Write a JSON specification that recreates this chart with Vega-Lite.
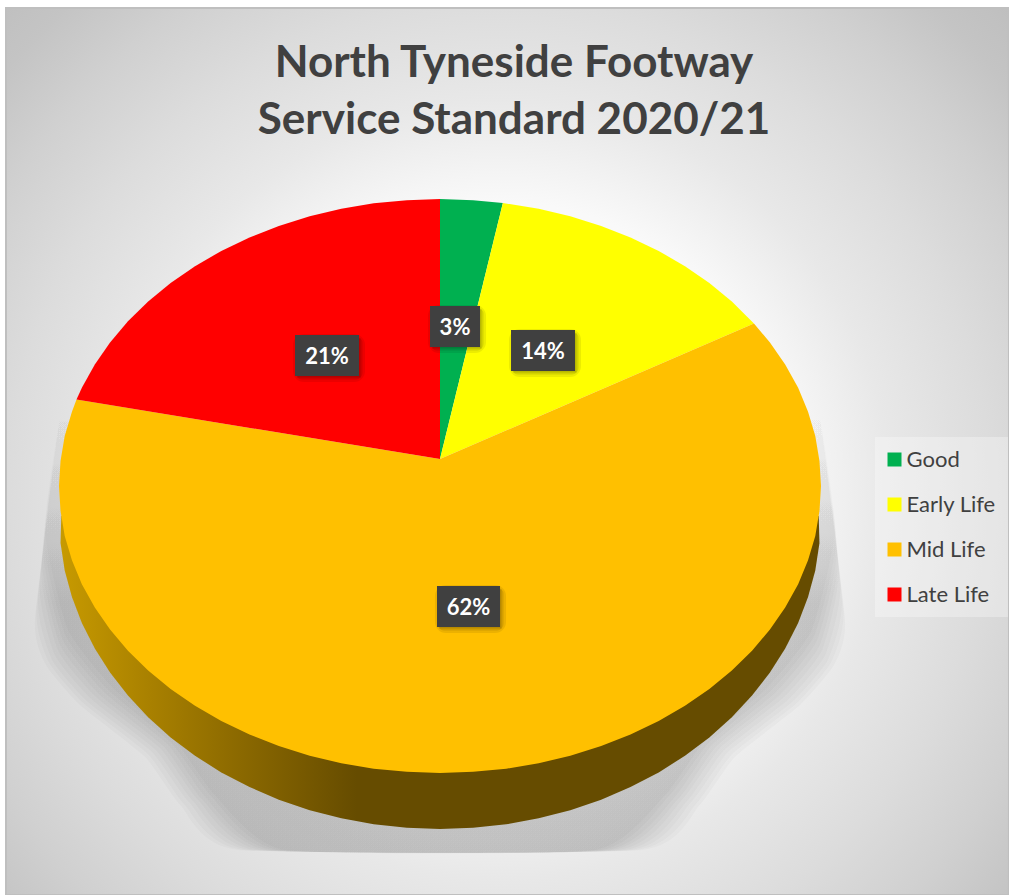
{
"$schema":"https://vega.github.io/schema/vega-lite/v6.json",
"width":1009,"height":895,"padding":0,"autosize":"none","background":"#ffffff",
"title":{"text":["North Tyneside Footway","Service Standard 2020/21"],"anchor":"middle","dx":9.5,"offset":-142.5,"baseline":"top","lineHeight":57,"font":"Lato","fontSize":44,"fontWeight":"bold","color":"#404040"},
"config":{"view":{"stroke":null}},
"datasets":{
"frame":[{"x":-1.1391,"x2":1.4934,"y":1.6655,"y2":-1.4251}],
"shadow":[
{"c":0,"i":0,"x":-0.992,"y":0.3},{"c":0,"i":1,"x":-1.063,"y":-0.467},{"c":0,"i":2,"x":-1.034,"y":-0.624},{"c":0,"i":3,"x":-0.945,"y":-0.763},{"c":0,"i":4,"x":-0.774,"y":-0.944},{"c":0,"i":5,"x":-0.682,"y":-1.111},{"c":0,"i":6,"x":-0.53,"y":-1.268},{"c":0,"i":7,"x":0.53,"y":-1.268},{"c":0,"i":8,"x":0.682,"y":-1.111},{"c":0,"i":9,"x":0.774,"y":-0.944},{"c":0,"i":10,"x":0.945,"y":-0.763},{"c":0,"i":11,"x":1.034,"y":-0.624},{"c":0,"i":12,"x":1.063,"y":-0.467},{"c":0,"i":13,"x":0.992,"y":0.3},
{"c":1,"i":0,"x":-0.992,"y":0.3},{"c":1,"i":1,"x":-1.059,"y":-0.432},{"c":1,"i":2,"x":-1.026,"y":-0.615},{"c":1,"i":3,"x":-0.935,"y":-0.758},{"c":1,"i":4,"x":-0.765,"y":-0.936},{"c":1,"i":5,"x":-0.672,"y":-1.108},{"c":1,"i":6,"x":-0.514,"y":-1.268},{"c":1,"i":7,"x":0.514,"y":-1.268},{"c":1,"i":8,"x":0.672,"y":-1.108},{"c":1,"i":9,"x":0.765,"y":-0.936},{"c":1,"i":10,"x":0.935,"y":-0.758},{"c":1,"i":11,"x":1.026,"y":-0.615},{"c":1,"i":12,"x":1.059,"y":-0.432},{"c":1,"i":13,"x":0.992,"y":0.3},
{"c":2,"i":0,"x":-0.992,"y":0.3},{"c":2,"i":1,"x":-1.055,"y":-0.397},{"c":2,"i":2,"x":-1.018,"y":-0.606},{"c":2,"i":3,"x":-0.924,"y":-0.753},{"c":2,"i":4,"x":-0.756,"y":-0.927},{"c":2,"i":5,"x":-0.659,"y":-1.101},{"c":2,"i":6,"x":-0.499,"y":-1.268},{"c":2,"i":7,"x":0.499,"y":-1.268},{"c":2,"i":8,"x":0.659,"y":-1.101},{"c":2,"i":9,"x":0.756,"y":-0.927},{"c":2,"i":10,"x":0.924,"y":-0.753},{"c":2,"i":11,"x":1.018,"y":-0.606},{"c":2,"i":12,"x":1.055,"y":-0.397},{"c":2,"i":13,"x":0.992,"y":0.3},
{"c":3,"i":0,"x":-0.992,"y":0.3},{"c":3,"i":1,"x":-1.051,"y":-0.345},{"c":3,"i":2,"x":-1.011,"y":-0.589},{"c":3,"i":3,"x":-0.914,"y":-0.744},{"c":3,"i":4,"x":-0.746,"y":-0.92},{"c":3,"i":5,"x":-0.648,"y":-1.098},{"c":3,"i":6,"x":-0.483,"y":-1.268},{"c":3,"i":7,"x":0.483,"y":-1.268},{"c":3,"i":8,"x":0.648,"y":-1.098},{"c":3,"i":9,"x":0.746,"y":-0.92},{"c":3,"i":10,"x":0.914,"y":-0.744},{"c":3,"i":11,"x":1.011,"y":-0.589},{"c":3,"i":12,"x":1.051,"y":-0.345},{"c":3,"i":13,"x":0.992,"y":0.3},
{"c":4,"i":0,"x":-0.992,"y":0.3},{"c":4,"i":1,"x":-1.047,"y":-0.293},{"c":4,"i":2,"x":-1.003,"y":-0.571},{"c":4,"i":3,"x":-0.903,"y":-0.735},{"c":4,"i":4,"x":-0.735,"y":-0.913},{"c":4,"i":5,"x":-0.635,"y":-1.094},{"c":4,"i":6,"x":-0.467,"y":-1.268},{"c":4,"i":7,"x":0.467,"y":-1.268},{"c":4,"i":8,"x":0.635,"y":-1.094},{"c":4,"i":9,"x":0.735,"y":-0.913},{"c":4,"i":10,"x":0.903,"y":-0.735},{"c":4,"i":11,"x":1.003,"y":-0.571},{"c":4,"i":12,"x":1.047,"y":-0.293},{"c":4,"i":13,"x":0.992,"y":0.3},
{"c":5,"i":0,"x":-0.992,"y":0.3},{"c":5,"i":1,"x":-1.045,"y":-0.258},{"c":5,"i":2,"x":-0.997,"y":-0.554},{"c":5,"i":3,"x":-0.893,"y":-0.727},{"c":5,"i":4,"x":-0.725,"y":-0.908},{"c":5,"i":5,"x":-0.625,"y":-1.091},{"c":5,"i":6,"x":-0.451,"y":-1.268},{"c":5,"i":7,"x":0.451,"y":-1.268},{"c":5,"i":8,"x":0.625,"y":-1.091},{"c":5,"i":9,"x":0.725,"y":-0.908},{"c":5,"i":10,"x":0.893,"y":-0.727},{"c":5,"i":11,"x":0.997,"y":-0.554},{"c":5,"i":12,"x":1.045,"y":-0.258},{"c":5,"i":13,"x":0.992,"y":0.3},
{"c":6,"i":0,"x":-0.992,"y":0.3},{"c":6,"i":1,"x":-1.042,"y":-0.223},{"c":6,"i":2,"x":-0.99,"y":-0.537},{"c":6,"i":3,"x":-0.882,"y":-0.718},{"c":6,"i":4,"x":-0.714,"y":-0.902},{"c":6,"i":5,"x":-0.614,"y":-1.087},{"c":6,"i":6,"x":-0.438,"y":-1.268},{"c":6,"i":7,"x":0.438,"y":-1.268},{"c":6,"i":8,"x":0.614,"y":-1.087},{"c":6,"i":9,"x":0.714,"y":-0.902},{"c":6,"i":10,"x":0.882,"y":-0.718},{"c":6,"i":11,"x":0.99,"y":-0.537},{"c":6,"i":12,"x":1.042,"y":-0.223},{"c":6,"i":13,"x":0.992,"y":0.3},
{"c":7,"i":0,"x":-0.992,"y":0.3},{"c":7,"i":1,"x":-1.04,"y":-0.188},{"c":7,"i":2,"x":-0.983,"y":-0.52},{"c":7,"i":3,"x":-0.872,"y":-0.709},{"c":7,"i":4,"x":-0.704,"y":-0.897},{"c":7,"i":5,"x":-0.601,"y":-1.08},{"c":7,"i":6,"x":-0.423,"y":-1.268},{"c":7,"i":7,"x":0.423,"y":-1.268},{"c":7,"i":8,"x":0.601,"y":-1.08},{"c":7,"i":9,"x":0.704,"y":-0.897},{"c":7,"i":10,"x":0.872,"y":-0.709},{"c":7,"i":11,"x":0.983,"y":-0.52},{"c":7,"i":12,"x":1.04,"y":-0.188},{"c":7,"i":13,"x":0.992,"y":0.3},
{"c":8,"i":0,"x":-0.992,"y":0.3},{"c":8,"i":1,"x":-1.037,"y":-0.153},{"c":8,"i":2,"x":-0.976,"y":-0.502},{"c":8,"i":3,"x":-0.861,"y":-0.7},{"c":8,"i":4,"x":-0.693,"y":-0.892},{"c":8,"i":5,"x":-0.591,"y":-1.077},{"c":8,"i":6,"x":-0.407,"y":-1.268},{"c":8,"i":7,"x":0.407,"y":-1.268},{"c":8,"i":8,"x":0.591,"y":-1.077},{"c":8,"i":9,"x":0.693,"y":-0.892},{"c":8,"i":10,"x":0.861,"y":-0.7},{"c":8,"i":11,"x":0.976,"y":-0.502},{"c":8,"i":12,"x":1.037,"y":-0.153},{"c":8,"i":13,"x":0.992,"y":0.3}
],
"wall":[
{"i":0,"x":-0.994,"y":-0.1045},{"i":1,"x":-0.996,"y":-0.199},{"i":2,"x":-0.985,"y":-0.294},{"i":3,"x":-0.966,"y":-0.387},{"i":4,"x":-0.94,"y":-0.477},{"i":5,"x":-0.906,"y":-0.566},{"i":6,"x":-0.866,"y":-0.65},{"i":7,"x":-0.819,"y":-0.73},{"i":8,"x":-0.766,"y":-0.806},{"i":9,"x":-0.707,"y":-0.876},{"i":10,"x":-0.643,"y":-0.94},{"i":11,"x":-0.574,"y":-0.998},{"i":12,"x":-0.5,"y":-1.049},{"i":13,"x":-0.423,"y":-1.093},{"i":14,"x":-0.342,"y":-1.13},{"i":15,"x":-0.259,"y":-1.158},{"i":16,"x":-0.174,"y":-1.179},{"i":17,"x":-0.087,"y":-1.191},{"i":18,"x":0,"y":-1.195},{"i":19,"x":0.087,"y":-1.191},{"i":20,"x":0.174,"y":-1.179},{"i":21,"x":0.259,"y":-1.158},{"i":22,"x":0.342,"y":-1.13},{"i":23,"x":0.423,"y":-1.093},{"i":24,"x":0.5,"y":-1.049},{"i":25,"x":0.574,"y":-0.998},{"i":26,"x":0.643,"y":-0.94},{"i":27,"x":0.707,"y":-0.876},{"i":28,"x":0.766,"y":-0.806},{"i":29,"x":0.819,"y":-0.73},{"i":30,"x":0.866,"y":-0.65},{"i":31,"x":0.906,"y":-0.566},{"i":32,"x":0.94,"y":-0.477},{"i":33,"x":0.966,"y":-0.387},{"i":34,"x":0.985,"y":-0.294},{"i":35,"x":0.996,"y":-0.199},{"i":36,"x":0.994,"y":-0.1045}
],
"slices":[
{"slice":"Good","i":0,"x":0,"y":0.094},{"slice":"Good","i":1,"x":0,"y":1},{"slice":"Good","i":2,"x":0.087,"y":0.996},{"slice":"Good","i":3,"x":0.165,"y":0.986},{"slice":"Good","i":4,"x":0,"y":0.094},
{"slice":"Early Life","i":0,"x":0,"y":0.094},{"slice":"Early Life","i":1,"x":0.165,"y":0.986},{"slice":"Early Life","i":2,"x":0.259,"y":0.966},{"slice":"Early Life","i":3,"x":0.342,"y":0.94},{"slice":"Early Life","i":4,"x":0.423,"y":0.906},{"slice":"Early Life","i":5,"x":0.5,"y":0.866},{"slice":"Early Life","i":6,"x":0.574,"y":0.819},{"slice":"Early Life","i":7,"x":0.643,"y":0.766},{"slice":"Early Life","i":8,"x":0.707,"y":0.707},{"slice":"Early Life","i":9,"x":0.766,"y":0.643},{"slice":"Early Life","i":10,"x":0.824,"y":0.566},{"slice":"Early Life","i":11,"x":0,"y":0.094},
{"slice":"Mid Life","i":0,"x":0,"y":0.094},{"slice":"Mid Life","i":1,"x":0.824,"y":0.566},{"slice":"Mid Life","i":2,"x":0.866,"y":0.5},{"slice":"Mid Life","i":3,"x":0.906,"y":0.423},{"slice":"Mid Life","i":4,"x":0.94,"y":0.342},{"slice":"Mid Life","i":5,"x":0.966,"y":0.259},{"slice":"Mid Life","i":6,"x":0.985,"y":0.174},{"slice":"Mid Life","i":7,"x":0.996,"y":0.087},{"slice":"Mid Life","i":8,"x":1,"y":0},{"slice":"Mid Life","i":9,"x":0.996,"y":-0.087},{"slice":"Mid Life","i":10,"x":0.985,"y":-0.174},{"slice":"Mid Life","i":11,"x":0.966,"y":-0.259},{"slice":"Mid Life","i":12,"x":0.94,"y":-0.342},{"slice":"Mid Life","i":13,"x":0.906,"y":-0.423},{"slice":"Mid Life","i":14,"x":0.866,"y":-0.5},{"slice":"Mid Life","i":15,"x":0.819,"y":-0.574},{"slice":"Mid Life","i":16,"x":0.766,"y":-0.643},{"slice":"Mid Life","i":17,"x":0.707,"y":-0.707},{"slice":"Mid Life","i":18,"x":0.643,"y":-0.766},{"slice":"Mid Life","i":19,"x":0.574,"y":-0.819},{"slice":"Mid Life","i":20,"x":0.5,"y":-0.866},{"slice":"Mid Life","i":21,"x":0.423,"y":-0.906},{"slice":"Mid Life","i":22,"x":0.342,"y":-0.94},{"slice":"Mid Life","i":23,"x":0.259,"y":-0.966},{"slice":"Mid Life","i":24,"x":0.174,"y":-0.985},{"slice":"Mid Life","i":25,"x":0.087,"y":-0.996},{"slice":"Mid Life","i":26,"x":0,"y":-1},{"slice":"Mid Life","i":27,"x":-0.087,"y":-0.996},{"slice":"Mid Life","i":28,"x":-0.174,"y":-0.985},{"slice":"Mid Life","i":29,"x":-0.259,"y":-0.966},{"slice":"Mid Life","i":30,"x":-0.342,"y":-0.94},{"slice":"Mid Life","i":31,"x":-0.423,"y":-0.906},{"slice":"Mid Life","i":32,"x":-0.5,"y":-0.866},{"slice":"Mid Life","i":33,"x":-0.574,"y":-0.819},{"slice":"Mid Life","i":34,"x":-0.643,"y":-0.766},{"slice":"Mid Life","i":35,"x":-0.707,"y":-0.707},{"slice":"Mid Life","i":36,"x":-0.766,"y":-0.643},{"slice":"Mid Life","i":37,"x":-0.819,"y":-0.574},{"slice":"Mid Life","i":38,"x":-0.866,"y":-0.5},{"slice":"Mid Life","i":39,"x":-0.906,"y":-0.423},{"slice":"Mid Life","i":40,"x":-0.94,"y":-0.342},{"slice":"Mid Life","i":41,"x":-0.966,"y":-0.259},{"slice":"Mid Life","i":42,"x":-0.985,"y":-0.174},{"slice":"Mid Life","i":43,"x":-0.996,"y":-0.087},{"slice":"Mid Life","i":44,"x":-1,"y":0},{"slice":"Mid Life","i":45,"x":-0.996,"y":0.087},{"slice":"Mid Life","i":46,"x":-0.985,"y":0.174},{"slice":"Mid Life","i":47,"x":-0.966,"y":0.259},{"slice":"Mid Life","i":48,"x":-0.954,"y":0.301},{"slice":"Mid Life","i":49,"x":0,"y":0.094},
{"slice":"Late Life","i":0,"x":0,"y":0.094},{"slice":"Late Life","i":1,"x":-0.954,"y":0.301},{"slice":"Late Life","i":2,"x":-0.94,"y":0.342},{"slice":"Late Life","i":3,"x":-0.906,"y":0.423},{"slice":"Late Life","i":4,"x":-0.866,"y":0.5},{"slice":"Late Life","i":5,"x":-0.819,"y":0.574},{"slice":"Late Life","i":6,"x":-0.766,"y":0.643},{"slice":"Late Life","i":7,"x":-0.707,"y":0.707},{"slice":"Late Life","i":8,"x":-0.643,"y":0.766},{"slice":"Late Life","i":9,"x":-0.574,"y":0.819},{"slice":"Late Life","i":10,"x":-0.5,"y":0.866},{"slice":"Late Life","i":11,"x":-0.423,"y":0.906},{"slice":"Late Life","i":12,"x":-0.342,"y":0.94},{"slice":"Late Life","i":13,"x":-0.259,"y":0.966},{"slice":"Late Life","i":14,"x":-0.174,"y":0.985},{"slice":"Late Life","i":15,"x":-0.087,"y":0.996},{"slice":"Late Life","i":16,"x":0,"y":1},{"slice":"Late Life","i":17,"x":0,"y":0.094}
],
"labels":[
{"label":"3%","x":-0.0262,"x2":0.105,"y":0.6272,"y2":0.4843,"cx":0.0394,"cy":0.5557},
{"label":"14%","x":0.1864,"x2":0.3543,"y":0.5436,"y2":0.4007,"cx":0.2704,"cy":0.4722},
{"label":"21%","x":-0.3806,"x2":-0.2126,"y":0.5261,"y2":0.3833,"cx":-0.2966,"cy":0.4547},
{"label":"62%","x":-0.0079,"x2":0.1575,"y":-0.3484,"y2":-0.4913,"cx":0.0748,"cy":-0.4199}
]
},
"encoding":{
"x":{"field":"x","type":"quantitative","axis":null,"scale":{"domain":[-1.15486,1.49344],"nice":false,"zero":false}},
"y":{"field":"y","type":"quantitative","axis":null,"scale":{"domain":[-1.42509,1.69338],"nice":false,"zero":false}}
},
"layer":[
{"data":{"name":"frame"},
 "mark":{"type":"rect","stroke":"#bfbfbf","strokeWidth":2,"fill":{"gradient":"radial","x1":0.4925,"y1":0.538,"r1":0,"x2":0.4925,"y2":0.538,"r2":0.718,"stops":[{"offset":0,"color":"#ffffff"},{"offset":0.4,"color":"#f9f9f9"},{"offset":0.54,"color":"#e8e8e8"},{"offset":0.68,"color":"#dcdcdc"},{"offset":0.8,"color":"#d0d0d0"},{"offset":0.9,"color":"#c4c4c4"},{"offset":1,"color":"#bdbdbd"}]}},
 "encoding":{"x2":{"field":"x2"},"y2":{"field":"y2"}}},
{"data":{"name":"shadow"},
 "mark":{"type":"line","stroke":null,"interpolate":"cardinal","tension":0.5,"fill":{"gradient":"linear","x1":0,"y1":0,"x2":0,"y2":1,"stops":[{"offset":0,"color":"rgba(0,0,0,0)"},{"offset":0.25,"color":"rgba(0,0,0,0.012)"},{"offset":0.45,"color":"rgba(0,0,0,0.023)"},{"offset":1,"color":"rgba(0,0,0,0.0245)"}]}},
 "encoding":{"detail":{"field":"c","type":"nominal"},"order":{"field":"i","type":"quantitative"}}},
{"data":{"name":"wall"},
 "mark":{"type":"line","stroke":null,"fill":{"gradient":"linear","x1":0,"y1":0,"x2":1,"y2":0,"stops":[{"offset":0,"color":"#c79a00"},{"offset":0.12,"color":"#a88000"},{"offset":0.24,"color":"#8a6800"},{"offset":0.39,"color":"#664c00"},{"offset":1,"color":"#664c00"}]}},
 "encoding":{"order":{"field":"i","type":"quantitative"}}},
{"data":{"name":"slices"},
 "mark":{"type":"line","filled":true,"strokeWidth":0},
 "encoding":{
  "order":{"field":"i","type":"quantitative"},
  "color":{"field":"slice","type":"nominal",
   "scale":{"domain":["Good","Early Life","Mid Life","Late Life"],"range":["#00b050","#ffff00","#ffc000","#ff0000"]},
   "legend":{"title":null,"orient":"none","legendX":875,"legendY":437,"symbolType":"square","symbolSize":196,"symbolStrokeWidth":0,"symbolOffset":-3,"labelFont":"Lato","labelFontSize":22,"labelColor":"#404040","labelOffset":1,"rowPadding":23,"padding":11.5,"fillColor":"rgba(255,255,255,0.3)","labelLimit":200}}}},
{"data":{"name":"labels"},"mark":{"type":"rect","xOffset":4,"yOffset":5,"fill":"#000000","stroke":"#000000","strokeWidth":12,"opacity":0.07,"cornerRadius":5},"encoding":{"x2":{"field":"x2"},"y2":{"field":"y2"}}},
{"data":{"name":"labels"},"mark":{"type":"rect","xOffset":4,"yOffset":5,"fill":"#000000","stroke":"#000000","strokeWidth":7,"opacity":0.1,"cornerRadius":3},"encoding":{"x2":{"field":"x2"},"y2":{"field":"y2"}}},
{"data":{"name":"labels"},"mark":{"type":"rect","xOffset":4,"yOffset":5,"fill":"#000000","stroke":"#000000","strokeWidth":3,"opacity":0.12},"encoding":{"x2":{"field":"x2"},"y2":{"field":"y2"}}},
{"data":{"name":"labels"},"mark":{"type":"rect","fill":"#404040"},"encoding":{"x2":{"field":"x2"},"y2":{"field":"y2"}}},
{"data":{"name":"labels"},"mark":{"type":"text","font":"Lato","fontSize":22,"fontWeight":"bold","color":"#ffffff","baseline":"middle","align":"center","dy":1.5},
 "encoding":{"x":{"field":"cx","type":"quantitative"},"y":{"field":"cy","type":"quantitative"},"text":{"field":"label","type":"nominal"}}}
]
}
